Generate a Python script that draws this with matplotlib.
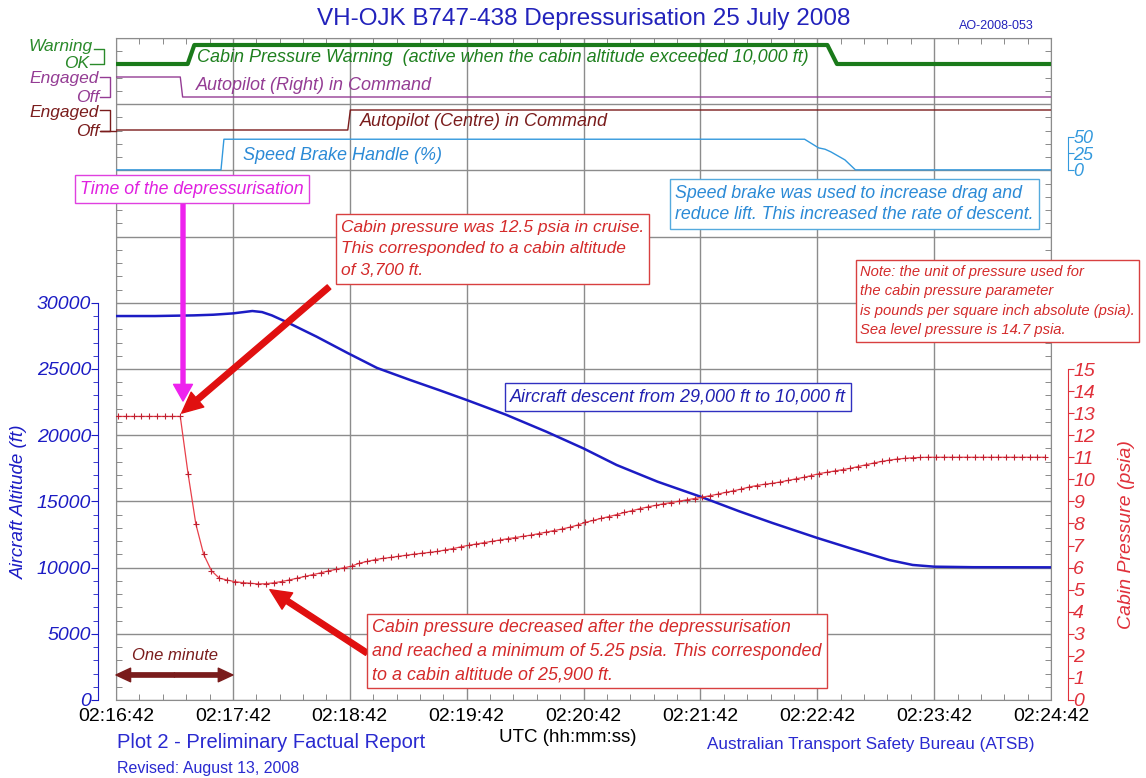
import matplotlib
matplotlib.use('Agg')
import matplotlib.pyplot as plt
from matplotlib.lines import Line2D
from matplotlib.ticker import MultipleLocator, FixedLocator

plt.rcParams['font.family'] = ['Liberation Sans', 'DejaVu Sans']

# time axis: seconds after 02:16:42 UTC
tick_labels = ['02:16:42', '02:17:42', '02:18:42', '02:19:42', '02:20:42',
               '02:21:42', '02:22:42', '02:23:42', '02:24:42']

# aircraft altitude (ft)
alt_t = [0, 20, 40, 50, 60, 70, 75, 80, 89, 103, 119, 134, 151, 166, 180, 200,
         221, 240, 257, 278, 300, 320, 337, 360, 377, 397, 409, 420, 440, 480]
alt_ft = [29000, 29000, 29050, 29100, 29200, 29380, 29300, 29050, 28450, 27440,
          26200, 25080, 24170, 23400, 22660, 21560, 20260, 19000, 17750, 16490,
          15360, 14250, 13370, 12240, 11460, 10570, 10200, 10070, 10030, 10020]

# cabin pressure (psia), one sample every 4 s
press_t = list(range(1, 480, 4))
press_psia = [12.85, 12.85, 12.85, 12.85, 12.85, 12.85, 12.85, 12.85, 12.85,
              10.25, 7.97, 6.60, 5.86, 5.52, 5.44, 5.36, 5.32, 5.29, 5.26, 5.27,
              5.31, 5.37, 5.44, 5.52, 5.60, 5.68, 5.76, 5.85, 5.92, 5.99,
              6.07, 6.20, 6.28, 6.36, 6.42, 6.46, 6.51, 6.56, 6.61, 6.65,
              6.69, 6.73, 6.80, 6.86, 6.94, 7.01, 7.07, 7.13, 7.19, 7.25,
              7.31, 7.36, 7.42, 7.47, 7.54, 7.61, 7.68, 7.75, 7.83, 7.93,
              8.05, 8.14, 8.23, 8.31, 8.40, 8.50, 8.58, 8.67, 8.75, 8.82,
              8.89, 8.95, 9.01, 9.07, 9.13, 9.19, 9.26, 9.33, 9.41, 9.48,
              9.56, 9.65, 9.72, 9.78, 9.82, 9.88, 9.95, 10.02, 10.09, 10.17,
              10.26, 10.32, 10.38, 10.44, 10.50, 10.58, 10.66, 10.74, 10.81, 10.87,
              10.92, 10.95, 10.98, 10.99, 11.00, 11.00, 11.00, 11.00, 11.00, 11.00,
              11.00, 11.00, 11.00, 11.00, 11.00, 11.00, 11.00, 11.00, 11.00, 11.00]

# discrete parameters
warn_t = [0, 36.8, 40.2, 365.2, 370.1, 480]
warn_on = [0, 0, 1, 1, 0, 0]
apr_t = [0, 33.0, 34.2, 480]
apr_on = [1, 1, 0, 0]
apc_t = [0, 119.0, 120.3, 480]
apc_on = [0, 0, 1, 1]
sb_t = [0, 53.9, 55.4, 353.5, 360.7, 364.0, 367.0, 374.2, 379.6, 480]
sb_pct = [0, 0, 46, 46, 33, 31, 27, 15, 0, 0]

blue = '#1c1cc4'
red = '#e0303a'
green = '#1a7a1a'
purple = '#943c94'
maroon = '#7a1c1c'
sbc = '#3399dd'
gridc = '#8c8c8c'

W, H = 1146, 778
L, R, T, B = 116, 1051, 38, 700
fig = plt.figure(figsize=(W / 100, H / 100), dpi=100)
ax = fig.add_axes([L / W, 1 - B / H, (R - L) / W, (B - T) / H])


def lvl(y):
    return (B - y) / (B - T)


def ftext(x, y, s, **kw):
    kw.setdefault('va', 'center')
    return fig.text(x / W, 1 - y / H, s, **kw)


def fline(xs, ys, color):
    fig.add_artist(Line2D([x / W for x in xs], [1 - y / H for y in ys], color=color, lw=1))


# left altitude scale
axa = ax.twinx()
axa.set_ylim(0, 50000)
axa.yaxis.tick_left()
axa.yaxis.set_label_position('left')
for k in ('top', 'right', 'bottom'):
    axa.spines[k].set_visible(False)
axa.spines['left'].set_position(('outward', 13))
axa.spines['left'].set_bounds(0, 30000)
axa.spines['left'].set_color(blue)
axa.set_yticks(range(0, 30001, 5000))
axa.yaxis.set_minor_locator(FixedLocator(range(0, 30001, 1000)))
axa.tick_params(axis='y', which='major', length=5, color=blue, labelcolor=blue,
                labelsize=14, pad=0)
axa.tick_params(axis='y', which='minor', length=3.5, color=blue)
for lab in axa.get_yticklabels():
    lab.set_fontstyle('italic')
axa.set_ylabel('Aircraft Altitude (ft)', color=blue, fontsize=13.5, style='italic')
axa.yaxis.set_label_coords(-0.094, 0.30)
axa.plot(alt_t, alt_ft, color=blue, lw=1.8)

# right cabin pressure scale (15 psia sits on the 25000 ft line)
axp = ax.twinx()
axp.set_ylim(0, 30)
for k in ('top', 'left', 'bottom'):
    axp.spines[k].set_visible(False)
axp.spines['right'].set_position(('outward', 12))
axp.spines['right'].set_bounds(0, 15)
axp.spines['right'].set_color(red)
axp.set_yticks(range(0, 16))
axp.tick_params(axis='y', length=4, color=red, labelcolor=red, labelsize=14, pad=0)
for lab in axp.get_yticklabels():
    lab.set_fontstyle('italic')
axp.set_ylabel('Cabin Pressure (psia)', color=red, fontsize=14, style='italic')
axp.yaxis.set_label_coords(1.072, 0.25)
axp.plot(press_t, press_psia, color='#e8404a', lw=0.9, marker='+', ms=4, mew=0.8,
         mec='#c02030')

# speed brake scale
axs = ax.twinx()
axs.set_ylim(-796, 198)
for k in ('top', 'left', 'bottom'):
    axs.spines[k].set_visible(False)
axs.spines['right'].set_position(('outward', 12))
axs.spines['right'].set_bounds(0, 50)
axs.spines['right'].set_color(sbc)
axs.set_yticks([0, 25, 50])
axs.tick_params(axis='y', length=4, color=sbc, labelcolor=sbc, labelsize=13, pad=0)
for lab in axs.get_yticklabels():
    lab.set_fontstyle('italic')
axs.plot(sb_t, sb_pct, color=sbc, lw=1)

# discrete traces
axd = ax.twinx()
axd.set_ylim(0, 1)
axd.axis('off')
axd.plot(warn_t, [lvl(64) + s * (lvl(45) - lvl(64)) for s in warn_on], color=green, lw=3)
axd.plot(apr_t, [lvl(97) + s * (lvl(77) - lvl(97)) for s in apr_on], color=purple, lw=1)
axd.plot(apc_t, [lvl(130) + s * (lvl(110) - lvl(130)) for s in apc_on], color=maroon, lw=1)

# frame, grid and time axis
ax.set_xlim(0, 480)
ax.set_ylim(0, 50000)
ax.set_xticks(range(0, 481, 60))
ax.set_xticklabels(tick_labels)
ax.xaxis.set_minor_locator(MultipleLocator(12))
ax.set_yticks(range(0, 50001, 5000))
ax.set_yticklabels([])
ax.yaxis.set_minor_locator(MultipleLocator(1000))
ax.tick_params(which='both', direction='in', top=True, right=True, left=True,
               bottom=True, color='#777777')
ax.tick_params(which='major', length=0, labelsize=14, pad=6)
ax.tick_params(which='minor', length=4)
ax.grid(True, which='major', color=gridc, lw=1)
for s in ax.spines.values():
    s.set_color(gridc)

# header and footer
ftext(584, 19, 'VH-OJK B747-438 Depressurisation 25 July 2008', ha='center',
      color='#2222bb', fontsize=17.5)
ftext(996, 26, 'AO-2008-053', ha='center', color='#2222bb', fontsize=9)
ftext(117, 743, 'Plot 2 - Preliminary Factual Report', color='#2a2ad0', fontsize=14.5)
ftext(568, 738, 'UTC (hh:mm:ss)', ha='center', color='black', fontsize=13.5)
ftext(707, 745, 'Australian Transport Safety Bureau (ATSB)', color='#2a2ad0', fontsize=12.3)
ftext(117, 769, 'Revised: August 13, 2008', color='#2a2ad0', fontsize=11.5)

# discrete trace labels
it = dict(style='italic', fontsize=12.5)
ftext(93, 46, 'Warning', ha='right', color='#2a8a2a', **it)
ftext(89, 64, 'OK', ha='right', color='#2a8a2a', **it)
fline([94, 104, 104, 90], [49, 49, 63.5, 63.5], '#2a8a2a')
ftext(99, 79, 'Engaged', ha='right', color=purple, **it)
ftext(99, 97, 'Off', ha='right', color=purple, **it)
fline([100, 110, 110, 100], [77, 77, 97, 97], purple)
ftext(99, 113, 'Engaged', ha='right', color=maroon, **it)
ftext(99, 131, 'Off', ha='right', color=maroon, **it)
fline([100, 110, 110, 100, 116], [110, 110, 130.5, 130.5, 130.5], maroon)

it = dict(style='italic', fontsize=13)
ftext(197, 58, 'Cabin Pressure Warning  (active when the cabin altitude exceeded 10,000 ft)',
      color='#1e801e', **it)
ftext(196, 86, 'Autopilot (Right) in Command', color=purple, **it)
ftext(360, 121, 'Autopilot (Centre) in Command', color=maroon, **it)
ftext(243, 155, 'Speed Brake Handle (%)', color='#2b8ad6', **it)

# annotation boxes
def box(x, y, s, color, ec, fs=13, ls=1.45):
    ftext(x, y, s, color=color, style='italic', fontsize=fs, linespacing=ls,
          bbox=dict(boxstyle='square,pad=0.3', fc='white', ec=ec, lw=1))


box(80, 189, 'Time of the depressurisation', '#e020e0', '#e040e0', fs=12.8)
box(341, 249, 'Cabin pressure was 12.5 psia in cruise.\nThis corresponded to a cabin altitude\n'
    'of 3,700 ft.', '#d42a2a', '#d84040', fs=12.5, ls=1.58)
box(675, 204, 'Speed brake was used to increase drag and\nreduce lift. This increased the rate of descent.',
    '#2b8ad6', '#55aadd', fs=12.8, ls=1.35)
box(860, 301, 'Note: the unit of pressure used for\nthe cabin pressure parameter\n'
    'is pounds per square inch absolute (psia).\nSea level pressure is 14.7 psia.',
    '#d42a2a', '#d84040', fs=10.6, ls=1.5)
box(510, 397, 'Aircraft descent from 29,000 ft to 10,000 ft', '#2020b0', '#3030c0', fs=13)
box(372, 651, 'Cabin pressure decreased after the depressurisation\nand reached a minimum of 5.25 psia. '
    'This corresponded\nto a cabin altitude of 25,900 ft.', '#d42a2a', '#d84040', fs=12.9, ls=1.5)
ftext(132, 655, 'One minute', color=maroon, style='italic', fontsize=12)

# arrows
red_arrow = dict(arrowstyle='simple,head_length=0.75,head_width=0.7,tail_width=0.2',
                 color='#e01010', mutation_scale=20, shrinkA=0, shrinkB=0)
axp.annotate('', xy=(33.7, 13.0), xytext=(329, H - 287), textcoords='figure pixels',
             arrowprops=red_arrow)
axp.annotate('', xy=(79, 5.0), xytext=(367, H - 653), textcoords='figure pixels',
             arrowprops=red_arrow)
axa.annotate('', xy=(34.4, 22580), xytext=(183, H - 200), textcoords='figure pixels',
             arrowprops=dict(arrowstyle='simple,head_length=0.75,head_width=0.85,tail_width=0.18',
                             color='#ee22ee', mutation_scale=16, shrinkA=0, shrinkB=0))
minute = dict(arrowstyle='simple,head_length=0.75,head_width=0.7,tail_width=0.22',
              color=maroon, mutation_scale=14, shrinkA=0, shrinkB=0)
axa.annotate('', xy=(0, 1890), xytext=(30, 1890), arrowprops=minute)
axa.annotate('', xy=(60, 1890), xytext=(30, 1890), arrowprops=minute)

fig.savefig('out.png', dpi=100)
